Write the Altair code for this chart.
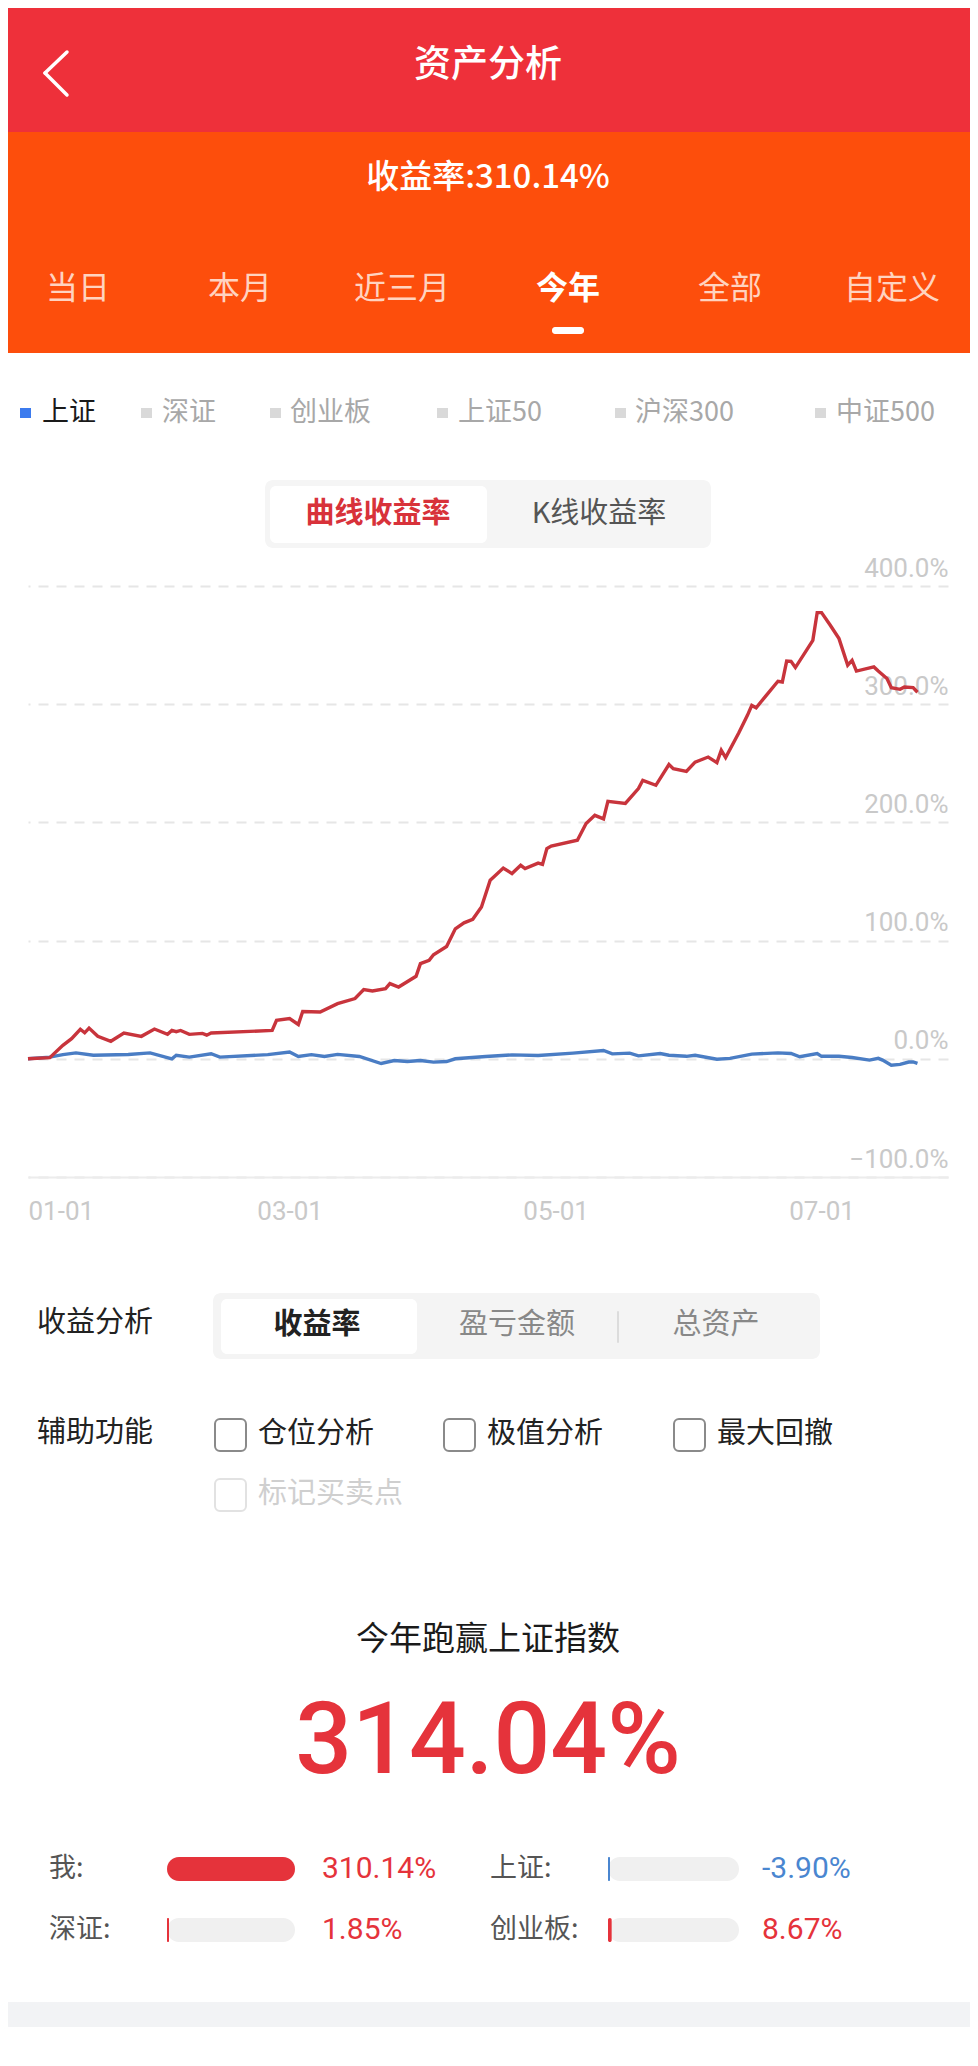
import altair as alt
import pandas as pd

CJK = "Noto Sans CJK SC"
NUM = "Roboto"

# ---------------- data ----------------
red_dates = ["2024-01-01","2024-01-06","2024-01-09","2024-01-11","2024-01-13","2024-01-14","2024-01-15",
             "2024-01-17","2024-01-20","2024-01-23","2024-01-27","2024-01-30","2024-02-02","2024-02-03",
             "2024-02-04","2024-02-05","2024-02-07","2024-02-10","2024-02-11","2024-02-12","2024-02-26",
             "2024-02-27","2024-03-01","2024-03-03","2024-03-04","2024-03-08","2024-03-12","2024-03-16",
             "2024-03-18","2024-03-20","2024-03-23","2024-03-24","2024-03-26","2024-03-30","2024-03-31",
             "2024-04-02","2024-04-03","2024-04-06","2024-04-08","2024-04-10","2024-04-12","2024-04-14",
             "2024-04-16","2024-04-17","2024-04-19","2024-04-21","2024-04-23","2024-04-24","2024-04-27",
             "2024-04-28","2024-04-29","2024-04-30","2024-05-06","2024-05-08","2024-05-10","2024-05-12",
             "2024-05-13","2024-05-17","2024-05-20","2024-05-21","2024-05-24","2024-05-27","2024-05-28",
             "2024-05-31","2024-06-02","2024-06-05","2024-06-07","2024-06-08","2024-06-09","2024-06-12",
             "2024-06-14","2024-06-15","2024-06-16","2024-06-18","2024-06-21","2024-06-22","2024-06-23",
             "2024-06-24","2024-06-25","2024-06-29","2024-06-30","2024-07-01","2024-07-03","2024-07-05",
             "2024-07-07","2024-07-08","2024-07-09","2024-07-13","2024-07-14","2024-07-16","2024-07-17",
             "2024-07-19","2024-07-20","2024-07-22","2024-07-23"]
red_vals = [0, 1, 11.4, 17, 25, 22, 26,
            19, 14.8, 21.8, 19, 25.2, 20.7, 24,
            23, 24, 20.7, 21.5, 20, 21.8, 24,
            32.6, 34, 29, 40, 39.6, 46.7, 51,
            58.5, 57.4, 59.4, 63.6, 60.7, 69.8, 80.5,
            83.3, 88, 95, 110, 115, 118, 128.4,
            151, 154.4, 161.4, 156.7, 163.7, 160.9, 165.6,
            164.5, 177.8, 180, 184.9, 199, 206, 203,
            217.8, 216, 228.6, 235.6, 231.4, 249, 245.5,
            243.2, 251, 255.3, 250.6, 261, 254.8, 275.6,
            290.6, 299, 297, 306, 319.4, 318.8, 336.5,
            336.3, 331, 354, 377.5, 377.5, 366.8, 355.5,
            333, 337, 328, 331.5, 328, 321.7, 314,
            312.6, 314.6, 314, 310.14]

sh_dates = ["2024-01-01","2024-01-06","2024-01-09","2024-01-12","2024-01-16","2024-01-24","2024-01-29",
            "2024-02-03","2024-02-04","2024-02-07","2024-02-12","2024-02-14","2024-02-25","2024-03-01",
            "2024-03-03","2024-03-06","2024-03-09","2024-03-12","2024-03-17","2024-03-22","2024-03-25",
            "2024-03-28","2024-03-31","2024-04-03","2024-04-06","2024-04-08","2024-04-15","2024-04-21",
            "2024-04-27","2024-05-05","2024-05-12","2024-05-14","2024-05-18","2024-05-20","2024-05-25",
            "2024-05-27","2024-05-31","2024-06-02","2024-06-07","2024-06-10","2024-06-15","2024-06-21",
            "2024-06-24","2024-06-26","2024-06-30","2024-07-01","2024-07-05","2024-07-08","2024-07-12",
            "2024-07-14","2024-07-15","2024-07-17","2024-07-19","2024-07-21","2024-07-22","2024-07-23"]
sh_vals = [0, 1.4, 3.5, 5, 3, 3.7, 5,
           0, 3, 1.4, 4.3, 1.4, 3.5, 5.8,
           2, 3.5, 2, 3.7, 2, -4, -1.5,
           -2.3, -1.5, -2.8, -2.3, 0, 2, 3.3,
           2.8, 4.8, 7, 4.2, 4.8, 2.5, 4.5,
           3, 2.1, 3, -0.4, 0.4, 4, 5,
           4.5, 1.7, 4.5, 2.1, 2.1, 1.1, -1.1,
           0.4, -1.1, -5.5, -4.7, -2.7, -2.7, -3.9]

period_tabs = ["当日", "本月", "近三月", "今年", "全部", "自定义"]
legend_names = ["上证", "深证", "创业板", "上证50", "沪深300", "中证500"]
compare_names = ["我", "上证", "深证", "创业板"]
compare_vals = [310.14, -3.90, 1.85, 8.67]
y_ticks = [-100, 0, 100, 200, 300, 400]
x_tick_months = [1, 3, 5, 7]

df = pd.DataFrame({
    "date": red_dates + sh_dates,
    "value": red_vals + sh_vals,
    "series": ["我"] * len(red_dates) + ["上证"] * len(sh_dates),
})

# ---------------- layout (page pixels) ----------------
OX, OY = 28, 586          # plot origin on the page
W, H = 920, 591
PAD = {"left": OX - 8, "top": OY - 8, "right": 962 - (OX - 8) - W, "bottom": 2050 - (OY - 8) - H}
ONE = pd.DataFrame({"k": [0]})


def text(t, x, y, size, color, align="left", weight="normal", font=CJK, opacity=1.0):
    return alt.Chart(ONE).mark_text(
        align=align, baseline="middle", fontSize=size, font=font,
        fontWeight=weight, color=color, opacity=opacity
    ).encode(x=alt.value(x - OX), y=alt.value(y - OY), text=alt.value(t))


def box(x1, y1, x2, y2, fill, r=0, stroke=None, sw=1.0):
    kw = dict(fill=fill, cornerRadius=r)
    if stroke:
        kw.update(stroke=stroke, strokeWidth=sw)
    return alt.Chart(ONE).mark_rect(**kw).encode(
        x=alt.value(x1 - OX), x2=alt.value(x2 - OX),
        y=alt.value(y1 - OY), y2=alt.value(y2 - OY))


def seg(x1, y1, x2, y2, color, sw):
    return alt.Chart(ONE).mark_rule(color=color, strokeWidth=sw, strokeCap="round").encode(
        x=alt.value(x1 - OX), x2=alt.value(x2 - OX),
        y=alt.value(y1 - OY), y2=alt.value(y2 - OY))


layers = []

# header
layers.append(box(0, 0, 970, 132, "#EE303A"))
layers.append(box(0, 132, 970, 353, "#FD4E0C"))
layers.append(seg(67, 52, 45, 73, "white", 3.5))
layers.append(seg(45, 73, 67, 95, "white", 3.5))
layers.append(text("资产分析", 488, 66, 37, "white", "center", 500))
layers.append(text(f"收益率:{red_vals[-1]:.2f}%", 488, 178, 33, "white", "center", 500))
tab_x = [78, 240, 402, 568, 730, 892]
for name, tx in zip(period_tabs, tab_x):
    if name == "今年":
        layers.append(text(name, tx, 289, 32, "white", "center", "bold"))
    else:
        layers.append(text(name, tx, 289, 32, "#FFD3C0", "center"))
layers.append(box(552, 327, 584, 334, "white", 3))

# index legend row
sq_x = [20, 141, 270, 437, 615, 815]
tx_x = [42, 162, 290, 458, 635, 836]
for i, (name, sx, lx) in enumerate(zip(legend_names, sq_x, tx_x)):
    active = i == 0
    layers.append(box(sx, 408, sx + 11, 418, "#3C7BEE" if active else "#D9D9D9"))
    layers.append(text(name, lx, 413, 27, "#1A1A1A" if active else "#A8A8A8"))

# curve / K toggle
layers.append(box(265, 480, 711, 548, "#F5F5F5", 8))
layers.append(box(270, 486, 487, 543, "white", 6))
layers.append(text("曲线收益率", 378, 514, 29, "#D8323A", "center", "bold"))
layers.append(text("K线收益率", 599, 514, 29, "#555555", "center"))

# ---------------- main line chart ----------------
base = alt.Chart(df).encode(
    x=alt.X("date:T",
            scale=alt.Scale(type="utc", domain=[alt.DateTime(year=2024, month=1, date=1, utc=True),
                                                alt.DateTime(year=2024, month=7, date=30, utc=True)]),
            axis=alt.Axis(values=[alt.DateTime(year=2024, month=m, date=1, utc=True) for m in x_tick_months],
                          format="%m-%d", title=None, grid=False, ticks=False, tickSize=0,
                          domain=True, domainColor="#ECECEC", domainWidth=2,
                          labelPadding=21, labelFontSize=26, labelFont=NUM, labelColor="#C9C9C9",
                          labelFlush=True)),
    y=alt.Y("value:Q",
            scale=alt.Scale(domain=[-100, 400], nice=False, zero=False),
            axis=alt.Axis(orient="right", values=y_ticks, title=None,
                          labelExpr="format(datum.value, '.1f') + '%'",
                          domain=False, ticks=False, tickSize=0, labelPadding=0,
                          labelAlign="right", labelBaseline="bottom", labelOffset=-5,
                          labelFontSize=26, labelFont=NUM, labelColor="#C9C9C9",
                          grid=True, gridColor="#E6E6E6", gridDash=[10, 8], gridWidth=2)),
    color=alt.Color("series:N", scale=alt.Scale(domain=["我", "上证"], range=["#C8343C", "#4A7DC4"]),
                    legend=None),
)
layers.append(base.transform_filter(alt.datum.series == "上证").mark_line(strokeWidth=3.4))
layers.append(base.transform_filter(alt.datum.series == "我").mark_line(strokeWidth=3.4))

# ---------------- analysis controls ----------------
layers.append(text("收益分析", 37, 1323, 29, "#222222"))
layers.append(box(213, 1293, 820, 1359, "#F4F4F4", 8))
layers.append(box(221, 1299, 417, 1354, "white", 6))
layers.append(text("收益率", 317, 1325, 29, "#222222", "center", "bold"))
layers.append(text("盈亏金额", 517, 1325, 29, "#888888", "center"))
layers.append(seg(618, 1312, 618, 1342, "#DCDCDC", 2))
layers.append(text("总资产", 716, 1325, 29, "#888888", "center"))

layers.append(text("辅助功能", 37, 1433, 29, "#222222"))
for cx, lbl in zip([215, 444, 674], ["仓位分析", "极值分析", "最大回撤"]):
    layers.append(box(cx, 1419, cx + 31, 1451, "white", 5, "#8A8A8A", 2))
    layers.append(text(lbl, cx + 43, 1434, 29, "#222222"))
layers.append(box(215, 1479, 246, 1511, "white", 5, "#E2E2E2", 2))
layers.append(text("标记买卖点", 258, 1494, 29, "#CFCFCF"))

# ---------------- beat-index summary ----------------
layers.append(text("今年跑赢上证指数", 488, 1640, 33, "#1A1A1A", "center"))
layers.append(text(f"{compare_vals[0] - compare_vals[1]:.2f}%", 488, 1743, 100, "#E5333B", "center",
                   500, NUM))

max_abs = max(abs(v) for v in compare_vals)
slots = [(49, 167, 295, 322, 1869), (490, 608, 739, 762, 1869),
         (49, 167, 295, 322, 1930), (490, 608, 739, 762, 1930)]
for name, v, (lx, t1, t2, vx, ry) in zip(compare_names, compare_vals, slots):
    col = "#E5333B" if v >= 0 else "#4A86D0"
    layers.append(text(f"{name}:", lx, ry, 27, "#555555"))
    layers.append(box(t1, ry - 12, t2, ry + 12, "#F0F0F0", 12))
    w = max(2.0, abs(v) / max_abs * (t2 - t1))
    layers.append(box(t1, ry - 12, t1 + w, ry + 12, col, min(12, w / 2)))
    layers.append(text(f"{v:.2f}%", vx, ry, 30, col, "left", "normal", NUM))

layers.append(box(0, 2002, 970, 2027, "#F2F3F5"))

chart = alt.layer(*layers).properties(
    width=W, height=H, padding=PAD,
    autosize=alt.AutoSizeParams(type="none"),
).configure_view(stroke=None)

chart.save("out.html", embed_options={"renderer": "svg", "actions": False})
